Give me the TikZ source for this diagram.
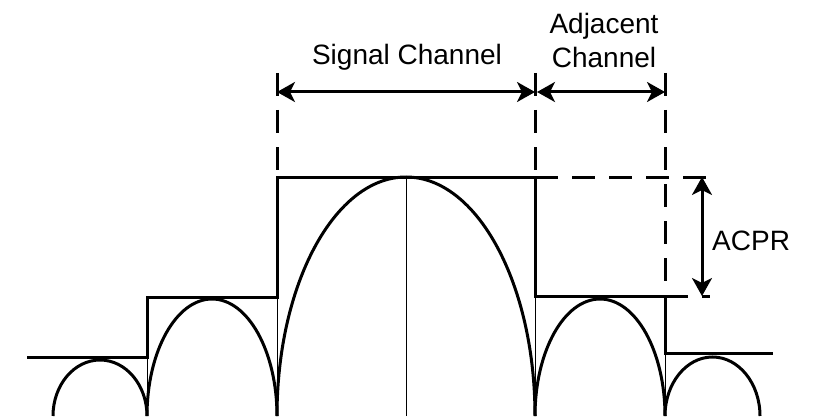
\documentclass[tikz,border=0pt]{standalone}
\usepackage{fontspec}
\setmainfont{Liberation Sans}
\usetikzlibrary{arrows.meta}

\begin{document}
\begin{tikzpicture}[
    x=1pt, y=1pt,
    mask/.style={line width=3pt, line join=miter},
    lobe/.style={line width=3pt},
    hair/.style={line width=0.9pt},
    guide/.style={line width=3pt, dash pattern=on 23pt off 14pt},
    dim/.style={{Stealth[length=18pt,width=20pt,inset=5pt]}-{Stealth[length=18pt,width=20pt,inset=5pt]},
                line width=3pt},
    lbl/.style={font=\fontsize{28}{35}\selectfont, inner sep=0pt}
  ]
    \useasboundingbox (0,0) rectangle (836,416);

    % channel edges and dimension ends
    \coordinate (sigL) at (277,324);
    \coordinate (sigR) at (535,324);
    \coordinate (adjL) at (537,324);
    \coordinate (adjR) at (665,324);
    \coordinate (hiR)  at (707,239);
    \coordinate (loR)  at (710,120);
    \coordinate (acprT) at (702,239);
    \coordinate (acprB) at (702,120);

    % spectrum lobes
    \foreach \x/\a/\b in {53/47/56, 147/65/117, 277/129/239, 535/65/117, 665/47.5/59}
      \draw[lobe] (\x,0) arc[start angle=180, end angle=0, x radius=\a, y radius=\b];
    \foreach \x/\y in {147/119, 277/119, 406/239, 535/120, 665/63}
      \draw[hair] (\x,0) -- (\x,\y);

    % mask
    \draw[mask] (27,59) -- (147,59) -- (147,119) -- (277,119) -- (277,239)
      -- (535,239) -- (535,120) -- (665,120) -- (665,63) -- (773,63);

    % guide lines
    \foreach \x/\y in {277/239, 535/239, 665/120}
      \draw[guide] (\x,343) -- (\x,\y);
    \draw[guide] (535,239) -- (hiR);
    \draw[guide] (665,120) -- (loR);

    % dimensions
    \draw[dim] (sigL) -- (sigR);
    \draw[dim] (adjL) -- (adjR);
    \draw[dim] (acprT) -- (acprB);

    \node[lbl, anchor=base] (sig) at (407,351) {Signal Channel};
    \node[lbl, anchor=base, align=center] (adj) at (604,348) {Adjacent\\Channel};
    \node[lbl, anchor=base west] (acpr) at (712,166) {ACPR};
  \end{tikzpicture}
\end{document}
